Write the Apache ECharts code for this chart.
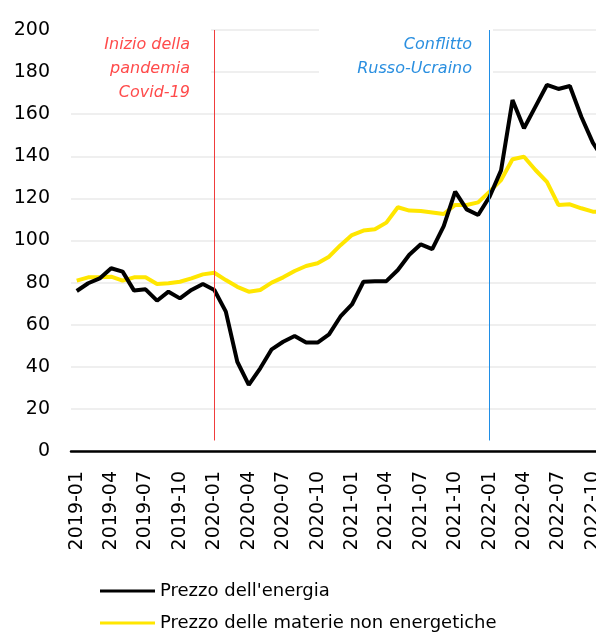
<!DOCTYPE html>
<html>
<head>
<meta charset="utf-8">
<script src="https://cdn.jsdelivr.net/npm/echarts@6/dist/echarts.min.js"></script>
<style>
  html, body { margin: 0; padding: 0; background: #fff; }
  #chart { width: 596px; height: 634px; }
</style>
</head>
<body>
<div id="chart"></div>
<script>
// mesi (ultimo punto tagliato dal bordo destro, come nell'originale)
var months = [
  "2019-01", "2019-02", "2019-03", "2019-04", "2019-05", "2019-06",
  "2019-07", "2019-08", "2019-09", "2019-10", "2019-11", "2019-12",
  "2020-01", "2020-02", "2020-03", "2020-04", "2020-05", "2020-06",
  "2020-07", "2020-08", "2020-09", "2020-10", "2020-11", "2020-12",
  "2021-01", "2021-02", "2021-03", "2021-04", "2021-05", "2021-06",
  "2021-07", "2021-08", "2021-09", "2021-10", "2021-11", "2021-12",
  "2022-01", "2022-02", "2022-03", "2022-04", "2022-05", "2022-06",
  "2022-07", "2022-08", "2022-09", "2022-10", "2022-11"
];

var energia = [
  76, 79.7, 82, 86.8, 85.2, 76.2, 76.8, 71.4, 75.7, 72.5, 76.5, 79.3,
  76.5, 66.2, 42.4, 31.4, 39.3, 48.3, 51.9, 54.6, 51.5, 51.5, 55.4, 63.9,
  69.6, 80.4, 80.6, 80.7, 86, 93.2, 98.2, 95.9, 106.8, 123.2, 114.8, 112.1,
  120.8, 133.3, 166.7, 153.3, 163.6, 173.9, 172, 173.4, 158.8, 146.5, 138
];

var nonEnergetiche = [
  80.9, 82.5, 82.5, 82.8, 80.9, 82.5, 82.5, 79.3, 79.7, 80.4, 82, 83.9,
  84.7, 81.2, 78, 75.7, 76.5, 80, 82.5, 85.5, 87.9, 89.2, 92.3, 97.8,
  102.6, 104.7, 105.3, 108.5, 115.8, 114.2, 114, 113.3, 112.6, 116.9, 116.9, 118.1,
  123.2, 128.7, 138.6, 139.8, 133.5, 127.9, 116.9, 117.2, 115.3, 113.7, 113.5
];

var seriesNames = ["Prezzo dell'energia", "Prezzo delle materie non energetiche"];
var eventi = ["2020-01", "2022-01"];
var noteEventi = ["Inizio della\npandemia\nCovid-19", "Conflitto\nRusso-Ucraino"];

var FONT = "DejaVu Sans";

var myChart = echarts.init(document.getElementById("chart"));
var option = {
  animation: false,
  textStyle: { fontFamily: FONT },
  grid: {
    left: 71,
    right: -14,
    top: 30,
    bottom: 183,
    containLabel: false,
    outerBoundsMode: "none"
  },
  legend: {
    orient: "vertical",
    left: 100,
    top: 582,
    height: 90,
    padding: 0,
    icon: "rect",
    itemWidth: 55,
    itemHeight: 3,
    itemGap: 14,
    data: seriesNames,
    textStyle: { fontFamily: FONT, fontSize: 18, color: "#000" }
  },
  graphic: [
    // riquadri bianchi dietro le note (coprono la griglia come nell'originale)
    { type: "rect", z: 1, silent: true, shape: { x: 60, y: 24, width: 151, height: 78 }, style: { fill: "#fff" } },
    { type: "rect", z: 1, silent: true, shape: { x: 319, y: 24, width: 174, height: 56 }, style: { fill: "#fff" } },
    {
      type: "text",
      z: 5,
      x: 190,
      y: 33,
      style: {
        text: noteEventi[0],
        align: "right",
        verticalAlign: "top",
        fill: "#ff4b4b",
        font: "italic 16px DejaVu Sans",
        lineHeight: 24
      }
    },
    {
      type: "text",
      z: 5,
      x: 472,
      y: 33,
      style: {
        text: noteEventi[1],
        align: "right",
        verticalAlign: "top",
        fill: "#2a8fe0",
        font: "italic 16px DejaVu Sans",
        lineHeight: 24
      }
    }
  ],
  xAxis: {
    type: "category",
    data: months,
    boundaryGap: true,
    axisTick: { show: false },
    axisLine: { show: true, lineStyle: { color: "#000", width: 2.5 } },
    axisLabel: {
      interval: 2,
      rotate: 90,
      margin: 20,
      color: "#000",
      fontSize: 19,
      fontFamily: FONT
    },
    splitLine: { show: false }
  },
  yAxis: {
    type: "value",
    min: 0,
    max: 200,
    interval: 20,
    axisLine: { show: false },
    axisTick: { show: false },
    axisLabel: { margin: 21, color: "#000", fontSize: 19, fontFamily: FONT },
    splitLine: { show: true, lineStyle: { color: "#efefef", width: 2 } }
  },
  series: [
    {
      name: seriesNames[0],
      type: "line",
      data: energia,
      symbol: "none",
      z: 3,
      lineStyle: { color: "#000", width: 4 },
      itemStyle: { color: "#000" },
      markLine: {
        silent: true,
        symbol: "none",
        label: { show: false },
        data: [
          [
            { xAxis: eventi[0], yAxis: 5, lineStyle: { color: "#f03c3c", width: 1, type: "solid" } },
            { xAxis: eventi[0], yAxis: 200 }
          ],
          [
            { xAxis: eventi[1], yAxis: 5, lineStyle: { color: "#1f8ee6", width: 1, type: "solid" } },
            { xAxis: eventi[1], yAxis: 200 }
          ]
        ]
      }
    },
    {
      name: seriesNames[1],
      type: "line",
      data: nonEnergetiche,
      symbol: "none",
      z: 2,
      lineStyle: { color: "#ffe600", width: 4 },
      itemStyle: { color: "#ffe600" }
    }
  ]
};
myChart.setOption(option);
</script>
</body>
</html>
